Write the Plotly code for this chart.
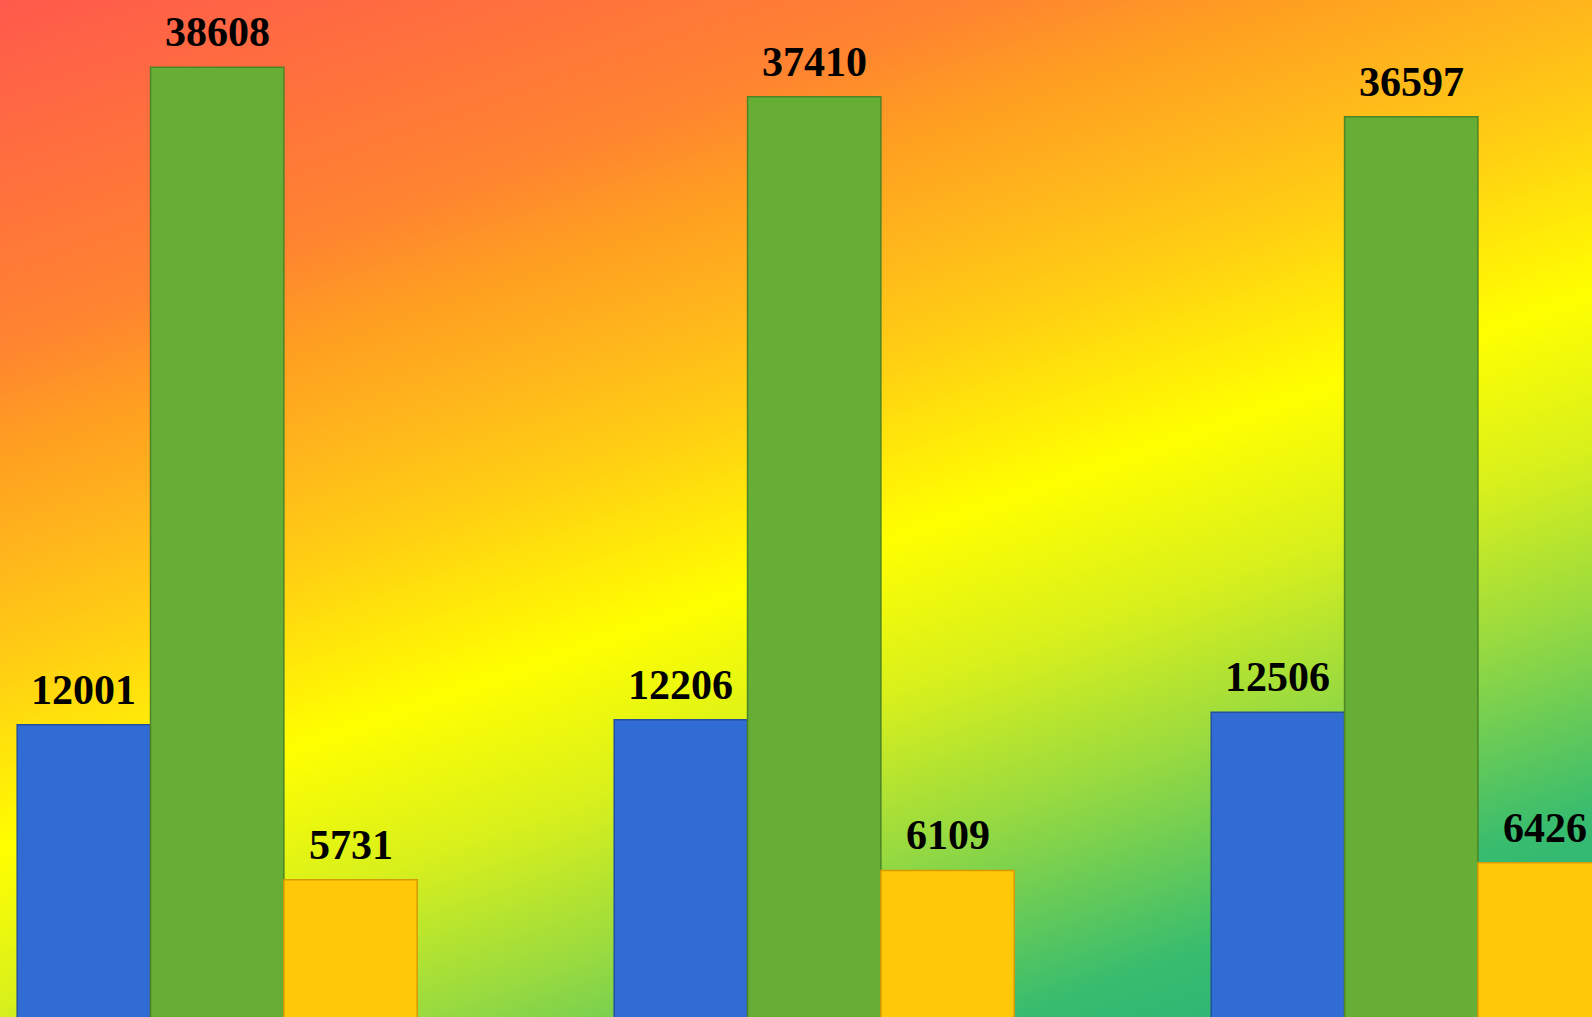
import base64
import plotly.graph_objects as go

# ---- data ----
categories = ["Category 1", "Category 2", "Category 3"]
series_names = ["Series 1", "Series 2", "Series 3"]
series1 = [12001, 12206, 12506]
series2 = [38608, 37410, 36597]
series3 = [5731, 6109, 6426]

# ---- styles ----
W, H = 1592, 1017
X_RANGE = [-0.3638, 2.3028]
Y_RANGE = [182, 41325]
BARGAP = 0.33
fills = ["#316BD4", "#66AE36", "#FFC808"]
edges = ["#24509E", "#4C8426", "#D89A00"]

grad_stops = [
    (0.00, "#FF5A4C"),
    (0.22, "#FF8430"),
    (0.29, "#FFA020"),
    (0.35, "#FFB41C"),
    (0.43, "#FFD012"),
    (0.54, "#FFFF00"),
    (0.64, "#D8F01C"),
    (0.74, "#98DA40"),
    (0.87, "#38BC6E"),
    (1.00, "#1EAE80"),
]
stops_svg = "".join(
    f'<stop offset="{o}" stop-color="{c}"/>' for o, c in grad_stops
)
svg = (
    f'<svg xmlns="http://www.w3.org/2000/svg" width="{W}" height="{H}" '
    f'viewBox="0 0 {W} {H}" preserveAspectRatio="none">'
    f'<defs><linearGradient id="g" gradientUnits="userSpaceOnUse" '
    f'x1="0" y1="0" x2="491" y2="1402">{stops_svg}</linearGradient></defs>'
    f'<rect x="0" y="0" width="{W}" height="{H}" fill="url(#g)"/></svg>'
)
bg_src = "data:image/svg+xml;base64," + base64.b64encode(svg.encode()).decode()

all_series = [series1, series2, series3]
n_series = len(all_series)
px_per_cat = W / (X_RANGE[1] - X_RANGE[0])
bar_px = (1 - BARGAP) / n_series * px_per_cat

fig = go.Figure()
annotations = []
for i, (name, vals, fc, ec) in enumerate(zip(series_names, all_series, fills, edges)):
    fig.add_trace(
        go.Bar(
            x=categories,
            y=vals,
            name=name,
            marker=dict(color=fc, line=dict(color=ec, width=1.5)),
            cliponaxis=False,
        )
    )
    for cat, v in zip(categories, vals):
        annotations.append(
            dict(
                x=cat,
                y=v,
                xref="x",
                yref="y",
                text=f"<b>{v}</b>",
                showarrow=False,
                xanchor="center",
                yanchor="bottom",
                xshift=(i - (n_series - 1) / 2) * bar_px,
                yshift=10,
                font=dict(family="Liberation Serif", size=42, color="black"),
            )
        )

fig.update_layout(
    width=W,
    height=H,
    margin=dict(l=0, r=0, t=0, b=0, pad=0),
    barmode="group",
    bargap=BARGAP,
    bargroupgap=0,
    showlegend=False,
    paper_bgcolor="#FFD000",
    plot_bgcolor="rgba(0,0,0,0)",
    annotations=annotations,
    images=[
        dict(
            source=bg_src,
            xref="paper",
            yref="paper",
            x=0,
            y=1,
            sizex=1,
            sizey=1,
            xanchor="left",
            yanchor="top",
            sizing="stretch",
            layer="below",
        )
    ],
    xaxis=dict(visible=False, range=X_RANGE),
    yaxis=dict(visible=False, range=Y_RANGE),
)

fig.write_html(
    "out.html",
    config={"displayModeBar": False},
    post_script="document.body.style.margin='0';document.body.style.overflow='hidden';",
)
